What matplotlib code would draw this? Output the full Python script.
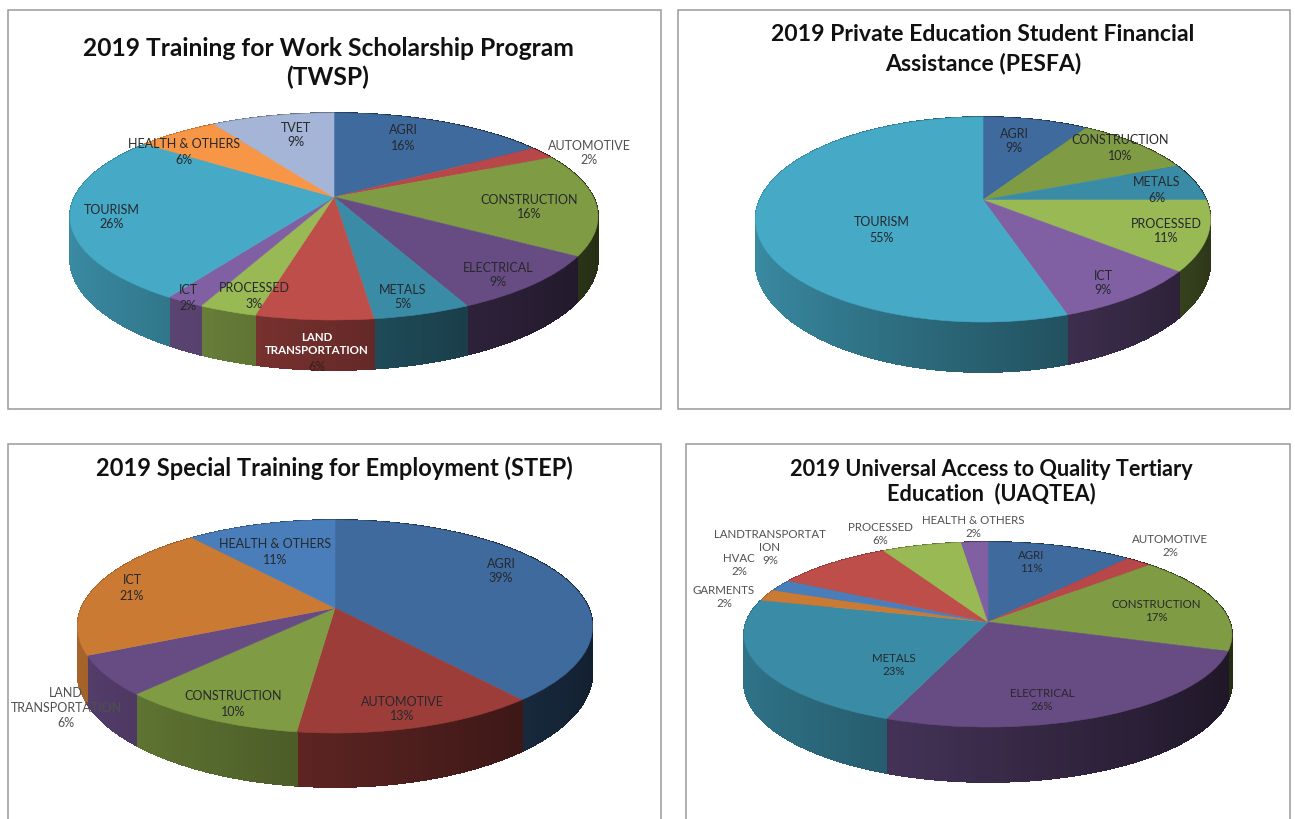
import numpy as np
from matplotlib import pyplot as plt
from matplotlib.collections import PolyCollection
from matplotlib.colors import to_rgb
from matplotlib.patches import Rectangle
from matplotlib.transforms import Transform

plt.rcParams["font.family"] = ["Lato", "DejaVu Sans"]

# data
twsp_names = ["AGRI", "AUTOMOTIVE", "CONSTRUCTION", "ELECTRICAL", "METALS",
              "LAND\nTRANSPORTATION", "PROCESSED", "ICT", "TOURISM", "HEALTH & OTHERS", "TVET"]
twsp_values = [16, 2, 16, 9, 5, 6, 3, 2, 26, 6, 9]

pesfa_names = ["AGRI", "CONSTRUCTION", "METALS", "PROCESSED", "ICT", "TOURISM"]
pesfa_values = [9, 10, 6, 11, 9, 55]

step_names = ["AGRI", "AUTOMOTIVE", "CONSTRUCTION", "LAND\nTRANSPORTATION", "ICT", "HEALTH & OTHERS"]
step_values = [39, 13, 10, 6, 21, 11]

uaqtea_names = ["AGRI", "AUTOMOTIVE", "CONSTRUCTION", "ELECTRICAL", "METALS", "GARMENTS", "HVAC",
                "LANDTRANSPORTAT\nION", "PROCESSED", "HEALTH & OTHERS"]
uaqtea_values = [11, 2, 17, 26, 23, 2, 2, 9, 6, 2]

# colours
twsp_colors = ["#3E6A9E", "#B8474A", "#7F9B43", "#674C83", "#3A8CA6",
               "#BD4E4A", "#98B954", "#8060A2", "#46A9C6", "#F79646", "#A5B5D7"]
pesfa_colors = ["#3E6A9E", "#7F9B43", "#3A8CA6", "#98B954", "#8060A2", "#46A9C6"]
step_colors = ["#3E6A9E", "#9C3D3A", "#7F9B43", "#674C83", "#CB7A33", "#4A7EBB"]
uaqtea_colors = ["#3E6A9E", "#B8474A", "#7F9B43", "#674C83", "#3A8CA6",
                 "#CB7A33", "#4A7EBB", "#BD4E4A", "#98B954", "#8060A2"]

# label centres in pixels
twsp_label_xy = [(403, 138), (589, 153), (529, 207), (498, 275), (403, 297), (317, 351),
                 (254, 296), (188, 298), (112, 217), (184, 152), (296, 135)]
pesfa_label_xy = [(1014, 141), (1120, 148), (1157, 190), (1166, 231), (1103, 283), (882, 230)]
step_label_xy = [(501, 571), (402, 709), (233, 704), (66, 708), (132, 588), (275, 552)]
uaqtea_label_xy = [(1031, 562), (1170, 546), (1156, 611), (1042, 700), (894, 665), (724, 597),
                   (739, 565), (770, 554), (880, 534), (973, 527)]

LABEL_SIZE = 9
OUTSIDE_GREY = "#505050"


class TiltedDisc(Transform):
    """Unit disc seen from above with some perspective, out in pixels."""
    input_dims = 2
    output_dims = 2

    def __init__(self, cx, cy, left, right, top, front):
        super().__init__()
        up = cy - top
        down = front - cy
        self.cx = cx
        self.cy = cy
        self.k = (down - up) / (down + up)
        self.ry = up * (1 + self.k)
        self.rx = (right - left) / 2 * np.sqrt(1 - self.k ** 2)

    def transform_non_affine(self, values):
        values = np.asarray(values, dtype=float)
        w = 1 + self.k * values[:, 1]
        return np.column_stack([self.cx + self.rx * values[:, 0] / w,
                                self.cy - self.ry * values[:, 1] / w])


def draw_pie(ax, values, colors, disc, depth):
    wedges, _ = ax.pie(values, colors=colors, startangle=90, counterclock=False,
                       wedgeprops={"linewidth": 0.4})
    for wedge, color in zip(wedges, colors):
        wedge.set_edgecolor(color)
        wedge.set_transform(disc + ax.transData)
        wedge.set_zorder(3)

        angles = np.radians(np.arange(wedge.theta1, wedge.theta2 + 1.5, 1.5))
        angles[-1] = min(angles[-1], np.radians(wedge.theta2))
        rim = disc.transform_non_affine(np.column_stack([np.cos(angles), np.sin(angles)]))
        drop = depth * (1 - disc.k) / (1 + disc.k * np.sin(angles))
        base = np.array(to_rgb(color))
        quads = []
        shades = []
        for i in range(len(angles) - 1):
            quads.append([rim[i], rim[i + 1],
                          rim[i + 1] + (0, drop[i + 1]), rim[i] + (0, drop[i])])
            # side gets darker going left to right
            shades.append(base * (0.56 - 0.27 * np.cos(angles[i])))
        # no antialiasing inside a side or the seams show as stripes
        ax.add_collection(PolyCollection(quads, facecolors=shades, edgecolors=shades,
                                         linewidths=0.6, antialiaseds=False, zorder=2))


def percent_labels(ax, names, values, label_xy, outside=(), size=LABEL_SIZE):
    texts = []
    for i, (name, value, (x, y)) in enumerate(zip(names, values, label_xy)):
        color = OUTSIDE_GREY if i in outside else "#26282c"
        texts.append(ax.text(x, y, f"{name}\n{value}%", ha="center", va="center",
                             fontsize=size, color=color, linespacing=1.3, zorder=5))
    return texts


fig = plt.figure(figsize=(12.95, 8.19), dpi=100)
ax = fig.add_axes([0, 0, 1, 1])

# chart frames
for x0, y0, x1, y1 in [(8, 10, 661, 409), (678, 10, 1290, 409),
                       (8, 444, 661, 830), (686, 444, 1290, 830)]:
    ax.add_patch(Rectangle((x0, y0), x1 - x0, y1 - y0, facecolor="white",
                           edgecolor="#9a9a9a", linewidth=1.1, zorder=0))

draw_pie(ax, twsp_values, twsp_colors, TiltedDisc(334, 197, 70, 598, 113, 320), 50)
draw_pie(ax, pesfa_values, pesfa_colors, TiltedDisc(983, 200, 756, 1211, 117, 322), 50)
draw_pie(ax, step_values, step_colors, TiltedDisc(335, 608, 77, 592, 520, 733), 54)
draw_pie(ax, uaqtea_values, uaqtea_colors, TiltedDisc(988, 622, 744, 1232, 542, 727), 55)

ax.set_aspect("auto")
ax.set_xlim(0, 1295)
ax.set_ylim(819, 0)
ax.axis("off")

twsp_texts = percent_labels(ax, twsp_names, twsp_values, twsp_label_xy, outside=(1,))
percent_labels(ax, pesfa_names, pesfa_values, pesfa_label_xy)
percent_labels(ax, step_names, step_values, step_label_xy, outside=(3,))
uaqtea_texts = percent_labels(ax, uaqtea_names, uaqtea_values, uaqtea_label_xy,
                              outside=(1, 5, 6, 7, 8, 9), size=8.3)

# the white label on the dark side of the TWSP pie, its 6% stays dark
land = twsp_texts[5]
land.set_text(twsp_names[5])
land.set_position((317, 344))
land.set(color="white", fontweight="bold", fontsize=8.3)
ax.text(317, 367, f"{twsp_values[5]}%", ha="center", va="center", fontsize=LABEL_SIZE,
        color="#3a1c1c", zorder=5)

# the broken word in UAQTEA, first line on its own so it clears HVAC
first_line, rest = uaqtea_names[7].split("\n")
uaqtea_texts[7].set_text(f"{rest}\n{uaqtea_values[7]}%")
ax.text(770, 534, first_line, ha="center", va="center", fontsize=8.3, color=OUTSIDE_GREY, zorder=5)

ax.text(328, 63, "2019 Training for Work Scholarship Program\n(TWSP)", ha="center", va="center",
        fontsize=17.7, fontweight="bold", color="#111111", linespacing=1.3, zorder=5)
ax.text(983, 49, "2019 Private Education Student Financial\nAssistance (PESFA)", ha="center", va="center",
        fontsize=16.6, fontweight="bold", color="#111111", linespacing=1.4, zorder=5)
ax.text(334, 468, "2019 Special Training for Employment (STEP)", ha="center", va="center",
        fontsize=17, fontweight="bold", color="#111111", zorder=5)
ax.text(991, 482, "2019 Universal Access to Quality Tertiary\nEducation  (UAQTEA)", ha="center", va="center",
        fontsize=15.6, fontweight="bold", color="#111111", linespacing=1.15, zorder=5)

fig.savefig("out.png", dpi=100)
